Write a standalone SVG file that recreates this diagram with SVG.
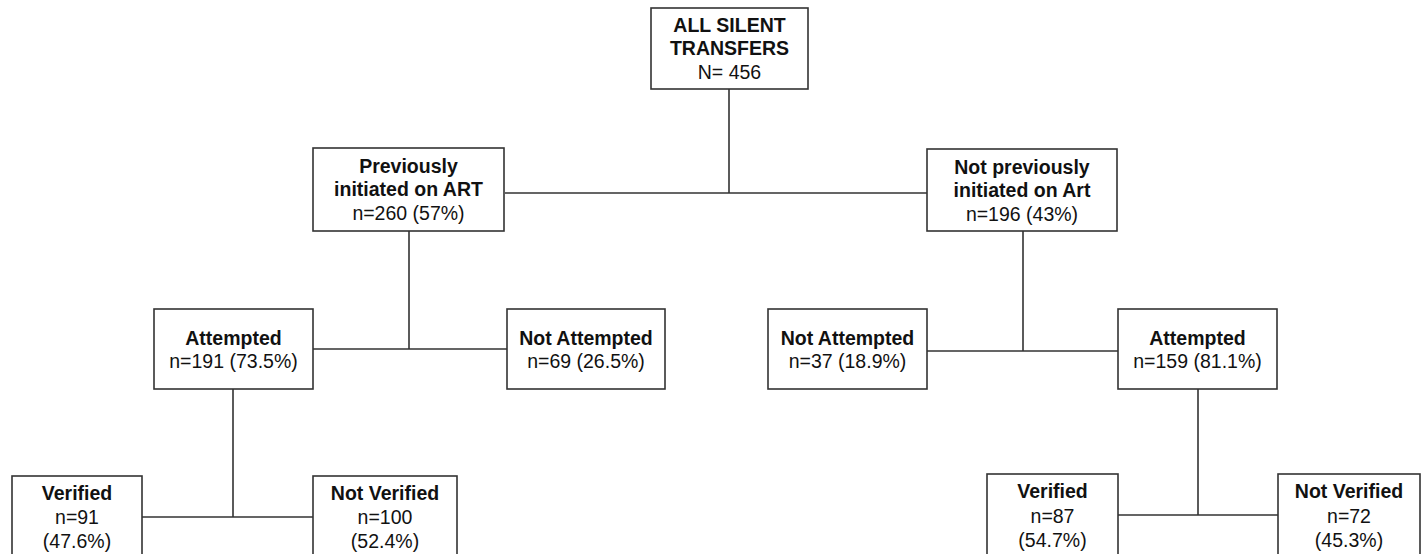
<svg xmlns="http://www.w3.org/2000/svg" width="1424" height="554" viewBox="0 0 1424 554">
<style>
.box{fill:#fff;stroke:#333;stroke-width:1.6}
.ln{stroke:#333;stroke-width:1.6;fill:none}
text{font-family:"Liberation Sans",Arial,sans-serif;font-size:19.5px;fill:#111;text-anchor:middle}
.b{font-weight:bold}
</style>
<rect width="1424" height="554" fill="#fff"/>
<g id="connectors">
<path class="ln" d="M729,89V193M505,193H927"/>
<path class="ln" d="M409,231V349M313,349H507"/>
<path class="ln" d="M1023,231V351M927,351H1118"/>
<path class="ln" d="M233,389V517M142,517H313"/>
<path class="ln" d="M1198,389V515M1118,515H1278"/>
</g>
<g id="all">
<rect class="box" x="651" y="8" width="157" height="81"/>
<text class="b" x="729.5" y="32">ALL SILENT</text>
<text class="b" x="729.5" y="55">TRANSFERS</text>
<text x="729.5" y="79">N= 456</text>
</g>
<g id="prev">
<rect class="box" x="313" y="148" width="191" height="83"/>
<text class="b" x="408.5" y="173">Previously</text>
<text class="b" x="408.5" y="196">initiated on ART</text>
<text x="408.5" y="220">n=260 (57%)</text>
</g>
<g id="notprev">
<rect class="box" x="927" y="149" width="190" height="82"/>
<text class="b" x="1022" y="174">Not previously</text>
<text class="b" x="1022" y="197">initiated on Art</text>
<text x="1022" y="221">n=196 (43%)</text>
</g>
<g id="att1">
<rect class="box" x="154" y="309" width="159" height="80"/>
<text class="b" x="233.5" y="345">Attempted</text>
<text x="233.5" y="368">n=191 (73.5%)</text>
</g>
<g id="notatt1">
<rect class="box" x="507" y="309" width="158" height="80"/>
<text class="b" x="586" y="345">Not Attempted</text>
<text x="586" y="368">n=69 (26.5%)</text>
</g>
<g id="notatt2">
<rect class="box" x="768" y="309" width="159" height="80"/>
<text class="b" x="847.5" y="345">Not Attempted</text>
<text x="847.5" y="368">n=37 (18.9%)</text>
</g>
<g id="att2">
<rect class="box" x="1118" y="309" width="159" height="80"/>
<text class="b" x="1197.5" y="345">Attempted</text>
<text x="1197.5" y="368">n=159 (81.1%)</text>
</g>
<g id="ver1">
<rect class="box" x="12" y="476" width="130" height="90"/>
<text class="b" x="77" y="500">Verified</text>
<text x="77" y="524">n=91</text>
<text x="77" y="548">(47.6%)</text>
</g>
<g id="notver1">
<rect class="box" x="313" y="476" width="144" height="90"/>
<text class="b" x="385" y="500">Not Verified</text>
<text x="385" y="524">n=100</text>
<text x="385" y="548">(52.4%)</text>
</g>
<g id="ver2">
<rect class="box" x="987" y="474" width="131" height="90"/>
<text class="b" x="1052.5" y="498">Verified</text>
<text x="1052.5" y="523">n=87</text>
<text x="1052.5" y="547">(54.7%)</text>
</g>
<g id="notver2">
<rect class="box" x="1278" y="474" width="142" height="90"/>
<text class="b" x="1349" y="498">Not Verified</text>
<text x="1349" y="523">n=72</text>
<text x="1349" y="547">(45.3%)</text>
</g>
</svg>
